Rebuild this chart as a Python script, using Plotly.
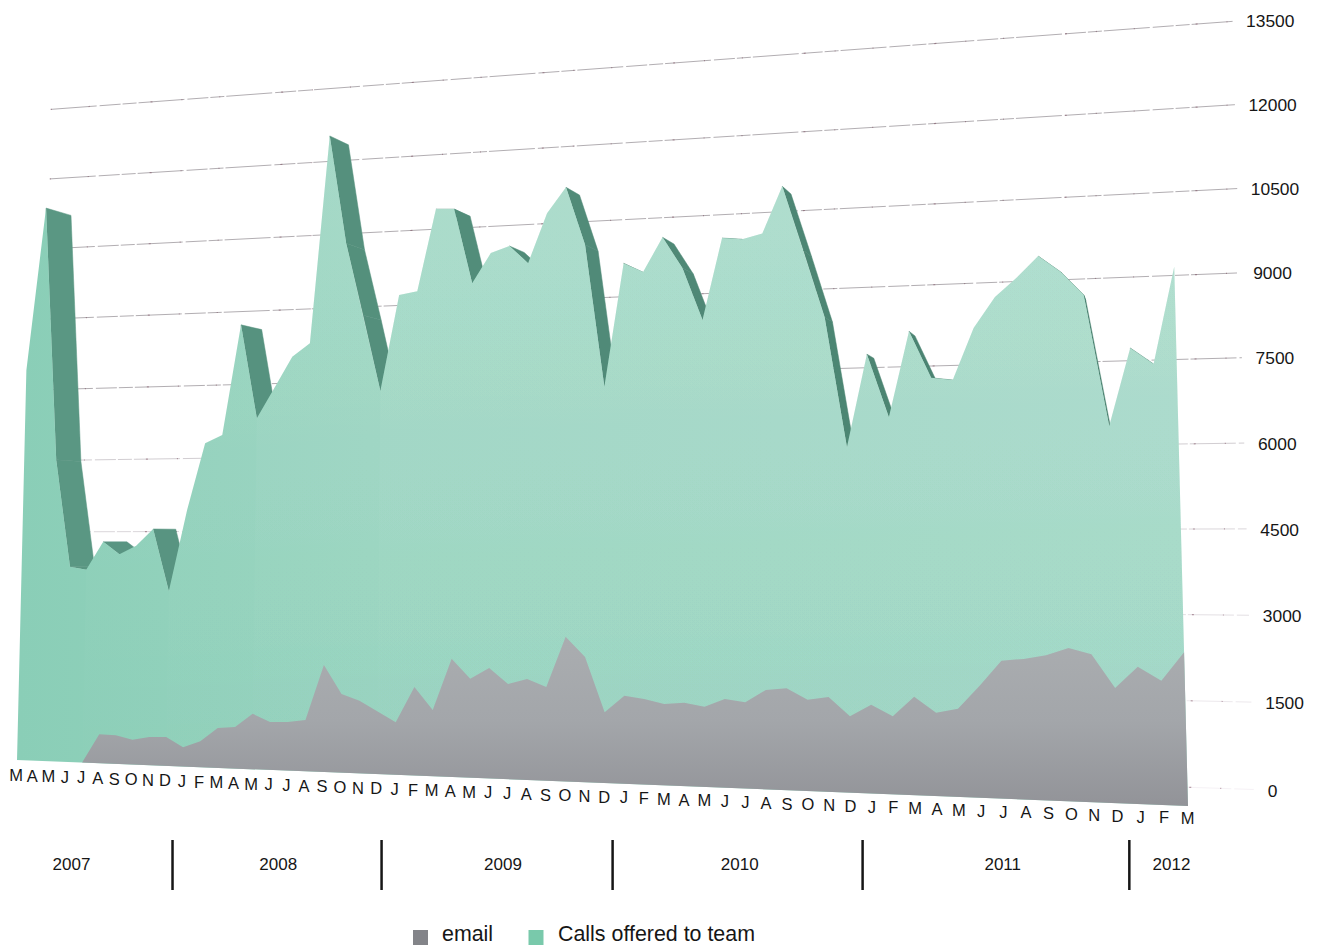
import numpy as np
import plotly.graph_objects as go

# ---- data ----
month_labels = list("MAMJJASONDJFMAMJJASONDJFMAMJJASONDJFMAMJJASONDJFMAMJJASONDJFM")
stack_top = [8030,11430,6150,3950,3890,4460,4210,4380,4720,3470,5100,6440,6600,8810,6920,7520,
             8130,8390,12540,10360,8910,7400,9280,9340,10940,10920,9450,10020,10140,9790,10740,
             11220,10090,7370,9700,9520,10160,9560,8570,10090,10050,10140,11000,9790,8540,6160,
             7840,6690,8230,7380,7330,8250,8790,9120,9490,9190,8770,6460,7810,7520,9200]
email = [0,0,0,0,0,580,570,490,560,570,380,510,780,810,1080,930,940,990,2060,1510,1390,1200,1000,
         1680,1250,2230,1860,2070,1780,1880,1740,2680,2310,1300,1610,1560,1480,1510,1450,1600,1550,
         1780,1820,1620,1680,1350,1560,1370,1720,1450,1530,1940,2380,2420,2490,2620,2520,1950,2320,
         2090,2580]
tick_values = [13500,12000,10500,9000,7500,6000,4500,3000,1500,0]
year_labels = ["2007","2008","2009","2010","2011","2012"]
year_centres = [3.35,15.5,27.75,39.7,51.95,59.3]
year_breaks = [9.4,21.25,33.4,45.55,57.5]
legend_labels = ["email","Calls offered to team"]

GREY, GREEN = "#838489", "#79c9ab"
FONT = "Liberation Sans, Arial, sans-serif"
INK = "#161616"

# ---- perspective calibration ----
def fit(src, dst):
    A, b = [], []
    for (u, v), (x, y) in zip(src, dst):
        A.append([u, v, 1, 0, 0, 0, -u*x, -v*x]); b.append(x)
        A.append([0, 0, 0, u, v, 1, -u*y, -v*y]); b.append(y)
    h = np.linalg.lstsq(np.array(A, float), np.array(b, float), rcond=None)[0]
    return np.append(h, 1).reshape(3, 3)

def apply(H, u, v):
    p = H @ np.array([u, v, 1.0])
    return p[0]/p[2], p[1]/p[2]

FRONT = fit([(0,0),(60,0),(0,13500),(60,13500)], [(17,760),(1188,806),(32.6,112),(1168,23)])
wall_left_x = [50,50,49,48,47,46,45,44,43,42]
wall_left_y = [110,179,248,319,390,460,532,603,676,748]
wall_right_x = [1233,1235,1238,1240,1242,1243,1245,1248,1253,1254]
wall_right_y = [22,105,189,272,357,443,528,615,703,790]
WALL = fit([(0,v) for v in tick_values]+[(1,v) for v in tick_values],
           list(zip(wall_left_x, wall_left_y))+list(zip(wall_right_x, wall_right_y)))
VP, DEPTH = (1180, 540), 0.022

def front(i, v):
    return apply(FRONT, i, v)

def back(i, v):
    x, y = front(i, v)
    return x + DEPTH*(VP[0]-x), y + DEPTH*(VP[1]-y)

n = len(stack_top)
fig = go.Figure()

def poly(pts, line=None, **kw):
    xs = [p[0] for p in pts]; ys = [p[1] for p in pts]
    fig.add_trace(go.Scatter(x=xs, y=ys, mode="lines", fill="toself", line=line or dict(width=0),
                             hoverinfo="skip", showlegend=False, **kw))

# ---- gridlines on the back wall ----
for k, v in enumerate(tick_values):
    a, b_ = apply(WALL, 0, v), apply(WALL, 1, v)
    base = 165 + 9*k if k > 4 else 178
    col = f"rgb({base},{base-4},{base})"
    fig.add_trace(go.Scatter(x=[a[0], b_[0]], y=[a[1], b_[1]], mode="lines",
                             line=dict(color=col, width=1, dash="46px,3px,21px,2px,14px,2px"),
                             hoverinfo="skip", showlegend=False))
    fig.add_trace(go.Scatter(x=[a[0], b_[0]], y=[a[1], b_[1]], mode="lines",
                             line=dict(color="rgba(120,70,90,0.5)", width=1.2, dash="1px,37px,1px,61px,2px,29px"),
                             hoverinfo="skip", showlegend=False))

# ---- extruded top face of the stack (only falling stretches show) ----
for i in range(n-1):
    if stack_top[i+1] > stack_top[i]:
        continue
    t = i/(n-2)
    col = "rgb(%d,%d,%d)" % (91-19*t, 152-24*t, 132-22*t)
    poly([front(i, stack_top[i]), front(i+1, stack_top[i+1]),
          back(i+1, stack_top[i+1]), back(i, stack_top[i]), front(i, stack_top[i])],
         line=dict(color=col, width=0.5), fillcolor=col)

# ---- calls area, on top of email ----
calls_pts = [front(0,0)] + [front(i, stack_top[i]) for i in range(n)] + [front(n-1,0), front(0,0)]
poly(calls_pts, name=legend_labels[1],
     fillgradient=dict(type="horizontal",
                       colorscale=[[0,"rgb(138,206,183)"],[0.3,"rgb(150,211,190)"],[1,"rgb(160,215,197)"]]))
# the lightening towards the top grows from left to right
for start in [4,9,14,21]:
    sub = [front(start,0)] + [front(i, stack_top[i]) for i in range(start, n)] + [front(n-1,0), front(start,0)]
    poly(sub, fillgradient=dict(type="vertical",
                                colorscale=[[0,"rgba(255,255,255,0)"],[1,"rgba(255,255,255,0.06)"]]))

# ---- email area ----
email_pts = [front(4,0)] + [front(i, email[i]) for i in range(4, n)] + [front(n-1,0), front(4,0)]
poly(email_pts, name=legend_labels[0],
     fillgradient=dict(type="vertical",
                       colorscale=[[0,"rgb(146,147,152)"],[0.5,"rgb(163,166,170)"],[1,"rgb(170,173,176)"]]))

# ---- value labels ----
lab = [apply(WALL, 1.0095, v) for v in tick_values]
fig.add_trace(go.Scatter(x=[p[0] for p in lab], y=[p[1]+2.5 for p in lab], mode="text",
                         text=[str(v) for v in tick_values], textposition="middle right",
                         textfont=dict(family=FONT, size=17.4, color=INK),
                         hoverinfo="skip", showlegend=False))

# ---- month labels ----
mon = [front(i, -300 + 1.6*i) for i in range(n)]
fig.add_trace(go.Scatter(x=[p[0]-0.6 for p in mon], y=[p[1]+2 for p in mon], mode="text",
                         text=month_labels, textposition="middle center",
                         textfont=dict(family=FONT, size=16.5, color=INK),
                         hoverinfo="skip", showlegend=False))

# ---- year band ----
for b in year_breaks:
    x = front(b, 0)[0]
    fig.add_trace(go.Scatter(x=[x, x], y=[840, 890], mode="lines",
                             line=dict(color=INK, width=2.5), hoverinfo="skip", showlegend=False))
fig.add_trace(go.Scatter(x=[front(c, 0)[0] for c in year_centres], y=[866]*len(year_centres),
                         mode="text", text=year_labels, textposition="middle center",
                         textfont=dict(family=FONT, size=17, color=INK),
                         hoverinfo="skip", showlegend=False))

# ---- legend ----
fig.add_trace(go.Scatter(x=[420.5, 536], y=[937.5, 937.5], mode="markers",
                         marker=dict(symbol="square", size=15, color=[GREY, GREEN], line=dict(width=0)),
                         hoverinfo="skip", showlegend=False))
fig.add_trace(go.Scatter(x=[442, 558], y=[935.5, 935.5], mode="text", text=legend_labels,
                         textposition="middle right",
                         textfont=dict(family=FONT, size=21.4, color=INK),
                         hoverinfo="skip", showlegend=False))

fig.update_layout(width=1318, height=946, margin=dict(l=0, r=0, t=0, b=0),
                  paper_bgcolor="white", plot_bgcolor="white", showlegend=False,
                  xaxis=dict(range=[0, 1318], visible=False, fixedrange=True),
                  yaxis=dict(range=[946, 0], visible=False, fixedrange=True))
fig.write_html("out.html", config={"displayModeBar": False},
               post_script="document.body.style.margin='0';")
